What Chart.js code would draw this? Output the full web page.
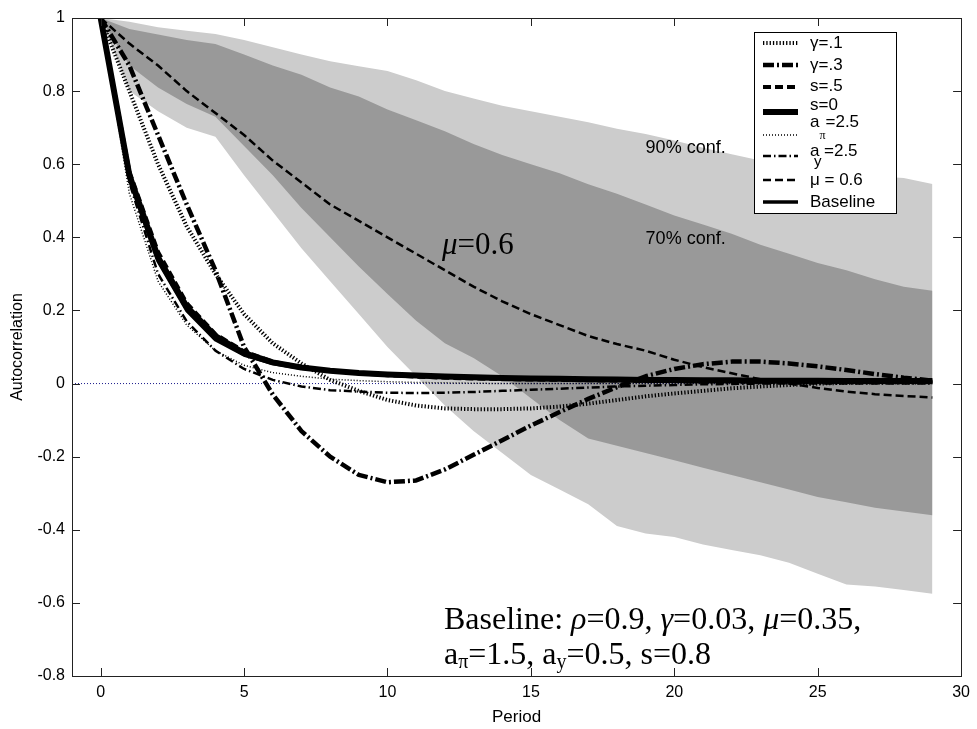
<!DOCTYPE html>
<html><head><meta charset="utf-8">
<script src="https://cdn.jsdelivr.net/npm/chart.js@4.4.0/dist/chart.umd.min.js"></script>
<style>html,body{margin:0;padding:0;background:#fff;}</style>
</head><body>
<canvas id="c" width="977" height="729"></canvas>
<script>
// ---------- data ----------
const periods = [0,1,2,3,4,5,6,7,8,9,10,11,12,13,14,15,16,17,18,19,20,21,22,23,24,25,26,27,28,29];
const conf90Upper = [1.0,0.99,0.975,0.965,0.956,0.94,0.92,0.90,0.882,0.868,0.855,0.83,0.80,0.78,0.76,0.745,0.73,0.715,0.697,0.683,0.665,0.645,0.627,0.61,0.598,0.59,0.58,0.567,0.562,0.546];
const conf90Lower = [1.0,0.80,0.745,0.70,0.675,0.57,0.47,0.37,0.28,0.19,0.10,0.02,-0.06,-0.13,-0.19,-0.25,-0.29,-0.33,-0.39,-0.41,-0.42,-0.44,-0.455,-0.47,-0.49,-0.52,-0.55,-0.555,-0.565,-0.575];
const conf70Upper = [1.0,0.97,0.955,0.94,0.929,0.90,0.87,0.845,0.81,0.785,0.75,0.72,0.69,0.655,0.625,0.60,0.575,0.545,0.519,0.49,0.46,0.435,0.41,0.38,0.355,0.33,0.31,0.285,0.265,0.254];
const conf70Lower = [1.0,0.87,0.81,0.765,0.73,0.65,0.57,0.48,0.40,0.32,0.245,0.172,0.11,0.07,0.02,-0.04,-0.10,-0.15,-0.17,-0.19,-0.21,-0.23,-0.25,-0.27,-0.29,-0.31,-0.325,-0.34,-0.35,-0.36];

const gamma1   = [1,0.80,0.60,0.43,0.30,0.19,0.11,0.055,0.01,-0.02,-0.045,-0.06,-0.068,-0.07,-0.07,-0.068,-0.063,-0.055,-0.045,-0.035,-0.027,-0.02,-0.013,-0.008,-0.004,0,0.002,0.003,0.003,0.003];
const gamma3   = [1,0.87,0.68,0.49,0.31,0.10,-0.03,-0.13,-0.20,-0.25,-0.27,-0.265,-0.235,-0.195,-0.155,-0.115,-0.078,-0.042,-0.01,0.02,0.04,0.053,0.06,0.06,0.055,0.047,0.037,0.026,0.016,0.008];
const s05      = [1,0.58,0.36,0.22,0.135,0.088,0.06,0.045,0.035,0.028,0.023,0.019,0.016,0.014,0.012,0.011,0.01,0.009,0.008,0.007,0.007,0.006,0.006,0.005,0.005,0.005,0.004,0.004,0.004,0.004];
const s0       = [1,0.57,0.345,0.21,0.13,0.083,0.058,0.044,0.035,0.029,0.025,0.022,0.019,0.017,0.015,0.014,0.013,0.012,0.011,0.01,0.01,0.009,0.009,0.008,0.008,0.008,0.007,0.007,0.007,0.007];
const aPi25    = [1,0.52,0.28,0.16,0.09,0.05,0.03,0.02,0.012,0.008,0.005,0.003,0.002,0.001,0,0,0,0,0,0,0,0,0,0,0,0,0,0,0,0];
const aY25     = [1,0.55,0.30,0.17,0.09,0.04,0.01,-0.008,-0.018,-0.022,-0.025,-0.026,-0.025,-0.023,-0.02,-0.017,-0.014,-0.011,-0.008,-0.006,-0.004,-0.002,-0.001,0,0,0,0,0,0,0];
const mu06     = [1,0.93,0.87,0.80,0.74,0.68,0.61,0.55,0.49,0.445,0.40,0.355,0.31,0.265,0.225,0.19,0.16,0.13,0.108,0.09,0.065,0.045,0.028,0.012,0,-0.012,-0.022,-0.029,-0.034,-0.038];
const baseline = [1,0.56,0.335,0.20,0.12,0.078,0.055,0.042,0.034,0.028,0.024,0.021,0.018,0.016,0.014,0.013,0.012,0.011,0.01,0.009,0.009,0.008,0.008,0.007,0.007,0.007,0.006,0.006,0.006,0.006];
const zeroLineX = [-1,29];
const zeroLineY = [0,0];

const xTickVals = [0,5,10,15,20,25,30];
const yTickVals = [-0.8,-0.6,-0.4,-0.2,0,0.2,0.4,0.6,0.8,1];

const seriesNames = ['γ=.1','γ=.3','s=.5','s=0','aπ=2.5','ay=2.5','μ = 0.6','Baseline'];

// ---------- build ----------
const pts = (ys) => periods.map((p,i)=>({x:p,y:ys[i]}));
const lineStyles = [
  {data:gamma1,  w:4,   dash:[1.3,2]},
  {data:gamma3,  w:4.5, dash:[11,3,2,3]},
  {data:s05,     w:4,   dash:[8,4]},
  {data:s0,      w:6,   dash:[]},
  {data:aPi25,   w:1.5, dash:[1,2]},
  {data:aY25,    w:2.5, dash:[8,3,1.5,3]},
  {data:mu06,    w:2.5, dash:[8,4]},
  {data:baseline,w:3.5, dash:[]}
];
const datasets = [
  {label:'90up', data:pts(conf90Upper), fill:'+1', backgroundColor:'rgb(204,204,204)', borderWidth:0, pointRadius:0, order:20},
  {label:'90lo', data:pts(conf90Lower), fill:false, borderWidth:0, pointRadius:0, order:20},
  {label:'70up', data:pts(conf70Upper), fill:'+1', backgroundColor:'rgb(153,153,153)', borderWidth:0, pointRadius:0, order:10},
  {label:'70lo', data:pts(conf70Lower), fill:false, borderWidth:0, pointRadius:0, order:10},
  {label:'zero', data:zeroLineX.map((x,i)=>({x:x,y:zeroLineY[i]})), borderColor:'#1c1c8c', borderWidth:1, borderDash:[1,2], pointRadius:0, fill:false, order:5}
];
lineStyles.forEach((s,i)=>{
  datasets.push({label:seriesNames[i], data:pts(s.data), borderColor:'#000', borderWidth:s.w, borderDash:s.dash,
    pointRadius:0, fill:false, tension:0, borderCapStyle:'butt', borderJoinStyle:'round', order:4-i*0.1});
});

const framePlugin = {
  id:'frame',
  afterDatasetsDraw(chart){
    const {ctx, chartArea:a, scales:{x,y}} = chart;
    ctx.save();
    ctx.strokeStyle = '#222'; ctx.lineWidth = 1; ctx.setLineDash([]);
    ctx.strokeRect(Math.round(a.left)+0.5, Math.round(a.top)+0.5, Math.round(a.right-a.left), Math.round(a.bottom-a.top));
    const L = 8;
    ctx.beginPath();
    xTickVals.forEach(v=>{
      const px = Math.round(x.getPixelForValue(v))+0.5;
      ctx.moveTo(px,a.bottom); ctx.lineTo(px,a.bottom-L);
      ctx.moveTo(px,a.top); ctx.lineTo(px,a.top+L);
    });
    yTickVals.forEach(v=>{
      const py = Math.round(y.getPixelForValue(v))+0.5;
      ctx.moveTo(a.left,py); ctx.lineTo(a.left+L,py);
      ctx.moveTo(a.right,py); ctx.lineTo(a.right-L,py);
    });
    ctx.stroke();
    ctx.restore();
  }
};

function drawRuns(ctx, x, y, runs){
  runs.forEach(r=>{
    ctx.font = r.f;
    ctx.fillText(r.t, x, y + (r.dy||0));
    x += ctx.measureText(r.t).width;
  });
}

const annoPlugin = {
  id:'anno',
  afterDraw(chart){
    const {ctx, scales:{x,y}} = chart;
    ctx.save();
    ctx.fillStyle = '#000';
    ctx.textBaseline = 'middle';
    ctx.textAlign = 'left';
    const S = '"Liberation Serif", "Times New Roman", serif';
    const SI = 'italic 32px ' + S, SN = '32px ' + S, SS = '20px ' + S;
    drawRuns(ctx, x.getPixelForValue(11.9), y.getPixelForValue(0.377), [
      {t:'μ', f:'italic 31px '+S},{t:'=0.6', f:'31px '+S}]);
    ctx.font = '18px "Liberation Sans", Arial, sans-serif';
    ctx.fillText('90% conf.', x.getPixelForValue(19.0), y.getPixelForValue(0.645));
    ctx.fillText('70% conf.', x.getPixelForValue(19.0), y.getPixelForValue(0.396));
    drawRuns(ctx, x.getPixelForValue(11.97), y.getPixelForValue(-0.648), [
      {t:'Baseline: ', f:SN},{t:'ρ', f:SI},{t:'=0.9, ', f:SN},{t:'γ', f:SI},{t:'=0.03, ', f:SN},
      {t:'μ', f:SI},{t:'=0.35,', f:SN}]);
    drawRuns(ctx, x.getPixelForValue(11.97), y.getPixelForValue(-0.745), [
      {t:'a', f:SN},{t:'π', f:SS, dy:7},{t:'=1.5, a', f:SN},{t:'y', f:SS, dy:7},{t:'=0.5, s=0.8', f:SN}]);
    ctx.restore();
  }
};

const legendPlugin = {
  id:'customLegend',
  afterDraw(chart){
    const {ctx} = chart;
    ctx.save();
    const bx = 754, by = 32, bw = 142, bh = 181;
    ctx.fillStyle = '#fff';
    ctx.fillRect(bx, by, bw, bh);
    ctx.strokeStyle = '#000'; ctx.lineWidth = 1; ctx.setLineDash([]);
    ctx.strokeRect(bx+0.5, by+0.5, bw, bh);
    const lineY = [43,65,87,112,135,156,180,202];
    const lx0 = 763, lx1 = 798, tx = 810;
    lineStyles.forEach((s,i)=>{
      ctx.beginPath();
      ctx.lineWidth = s.w; ctx.setLineDash(s.dash); ctx.lineCap='butt';
      ctx.strokeStyle = '#000';
      ctx.moveTo(lx0, lineY[i]); ctx.lineTo(lx1, lineY[i]);
      ctx.stroke();
    });
    ctx.setLineDash([]);
    ctx.fillStyle = '#000';
    ctx.textBaseline = 'middle';
    const F = '17px "Liberation Sans", Arial, sans-serif';
    const FS = '12px "Liberation Serif", serif';
    const FSa = '15px "Liberation Sans", Arial, sans-serif';
    ctx.font = F;
    ctx.fillText(seriesNames[0], tx, 43);
    ctx.fillText(seriesNames[1], tx, 65);
    ctx.fillText(seriesNames[2], tx, 86);
    ctx.fillText(seriesNames[3], tx, 105);
    drawRuns(ctx, tx, 122, [{t:'a', f:F},{t:'π', f:FS, dy:14},{t:'=2.5', f:F}]);
    ctx.font = F; ctx.fillText('a', tx, 151);
    ctx.font = FSa; ctx.fillText('y', tx+4, 162);
    ctx.font = F; ctx.fillText('=2.5', tx+14, 151);
    ctx.fillText(seriesNames[6], tx, 180);
    ctx.fillText(seriesNames[7], tx, 202);
    ctx.restore();
  }
};

new Chart(document.getElementById('c'), {
  type:'line',
  data:{datasets},
  options:{
    responsive:false, animation:false, devicePixelRatio:1,
    layout:{padding:{left:0, top:18, right:12, bottom:0}},
    plugins:{legend:{display:false}, tooltip:{enabled:false}, filler:{propagate:false}},
    elements:{line:{tension:0}},
    scales:{
      x:{type:'linear', min:-1, max:30,
        grid:{display:false, drawTicks:false}, border:{display:false},
        afterBuildTicks:(s)=>{ s.ticks = xTickVals.map(v=>({value:v})); },
        afterFit:(s)=>{ s.height = 53; },
        ticks:{color:'#000', padding:7, maxRotation:0, font:{family:'"Liberation Sans", Arial, sans-serif', size:16}},
        title:{display:true, text:'Period', color:'#000', padding:{top:0,bottom:1}, font:{family:'"Liberation Sans", Arial, sans-serif', size:17}}
      },
      y:{type:'linear', min:-0.8, max:1,
        grid:{display:false, drawTicks:false}, border:{display:false},
        afterBuildTicks:(s)=>{ s.ticks = yTickVals.map(v=>({value:v})); },
        afterFit:(s)=>{ s.width = 72; },
        ticks:{color:'#000', padding:7, font:{family:'"Liberation Sans", Arial, sans-serif', size:16},
          callback:(v)=>String(Math.round(v*10)/10)},
        title:{display:true, text:'Autocorrelation', color:'#000', padding:{top:8,bottom:0}, font:{family:'"Liberation Sans", Arial, sans-serif', size:16}}
      }
    }
  },
  plugins:[framePlugin, annoPlugin, legendPlugin]
});
</script>
</body></html>
